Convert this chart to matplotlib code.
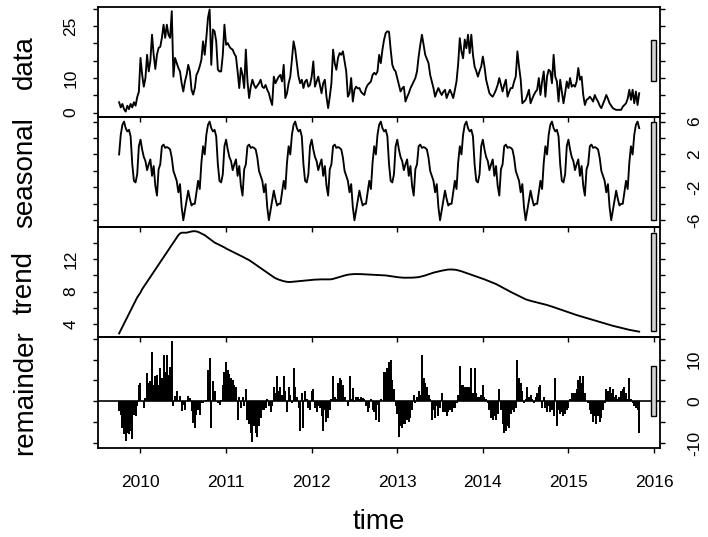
import numpy as np
import matplotlib
matplotlib.use("Agg")
import matplotlib.pyplot as plt
from matplotlib.patches import Rectangle

plt.rcParams['font.family'] = ['Liberation Sans', 'DejaVu Sans']

# ---------------- data (weekly series, STL decomposition) ----------------
start_year = 2009
start_week = 39          # weeks after start of 2009
freq = 52

data = [
    3.0, 1.5, 2.5, 1.0, 0.3, 2.0, 1.0, 2.5, 1.5, 3.0, 2.0, 4.5, 6.0,
    15.8, 11.0, 7.5, 10.0, 16.7, 11.9, 15.0, 22.5, 16.7, 12.6, 16.7, 18.7, 19.0,
    21.6, 25.4, 21.6, 25.4, 22.5, 21.6, 29.3, 10.4, 15.8, 14.3, 12.9, 11.9, 8.5,
    6.1, 9.0, 10.9, 13.8, 11.9, 6.6, 5.2, 7.1, 10.9, 11.9, 13.4, 15.3, 20.6,
    16.7, 21.6, 27.4, 29.8, 13.8, 24.0, 23.5, 20.6, 12.4, 11.9, 11.9, 16.7, 25.4,
    19.6, 20.1, 19.1, 18.5, 18.2, 17.0, 16.2, 11.9, 7.1, 12.9, 10.9, 7.1, 18.2,
    9.0, 4.2, 7.5, 9.5, 8.0, 7.1, 7.8, 8.5, 9.5, 7.5, 7.1, 8.0, 6.6,
    5.6, 3.7, 2.2, 10.4, 8.5, 9.5, 10.4, 10.9, 9.0, 13.8, 4.2, 5.6, 8.5,
    10.4, 15.3, 20.6, 18.2, 14.3, 10.4, 8.5, 9.5, 7.1, 9.0, 9.5, 7.5, 8.0,
    10.4, 14.8, 7.5, 9.0, 10.4, 8.0, 5.6, 8.5, 9.5, 4.6, 1.3, 4.6, 8.5,
    18.2, 14.3, 12.4, 15.8, 17.2, 16.7, 17.7, 14.8, 11.9, 4.6, 5.6, 10.0, 3.2,
    6.6, 7.5, 7.0, 7.1, 6.0, 5.5, 5.1, 7.0, 8.0, 8.5, 9.0, 10.9, 11.5,
    11.0, 11.9, 16.7, 14.3, 18.2, 21.1, 23.0, 23.5, 23.3, 18.2, 13.8, 12.5, 11.9,
    10.0, 8.0, 6.1, 7.0, 7.5, 3.2, 4.5, 5.6, 7.0, 8.0, 9.0, 10.0, 11.9,
    16.2, 19.6, 22.5, 19.6, 16.7, 15.5, 14.3, 10.9, 9.0, 7.1, 4.6, 6.0, 7.1,
    6.0, 5.1, 6.0, 6.6, 4.2, 5.5, 6.6, 5.5, 4.2, 6.5, 9.0, 14.0, 21.5,
    17.7, 15.7, 21.1, 18.6, 22.5, 17.2, 22.5, 16.7, 13.3, 12.0, 10.4, 12.0, 13.3,
    16.2, 13.3, 9.5, 7.5, 5.6, 5.0, 4.6, 5.5, 6.6, 8.0, 10.0, 8.0, 6.1,
    8.0, 9.5, 4.6, 6.0, 7.1, 7.1, 9.0, 10.4, 17.7, 13.3, 9.5, 2.7, 3.2,
    3.7, 5.0, 6.6, 2.7, 4.0, 5.1, 6.0, 6.6, 10.0, 5.1, 9.0, 11.9, 4.6,
    10.4, 12.4, 11.9, 8.5, 16.7, 10.4, 9.0, 3.2, 9.5, 6.0, 2.7, 5.6, 9.0,
    7.1, 10.0, 7.5, 8.0, 7.5, 9.0, 12.9, 9.5, 10.4, 5.1, 2.2, 3.7, 4.0,
    4.6, 4.0, 3.2, 5.1, 4.0, 3.2, 2.0, 1.3, 2.5, 3.7, 5.1, 4.0, 2.7,
    2.0, 1.3, 1.0, 0.8, 0.8, 0.8, 0.8, 1.7, 2.2, 2.7, 4.0, 6.6, 3.7,
    6.6, 2.7, 6.1, 2.2, 5.6]

# periodic seasonal component, one year (week 0 .. 51)
seasonal_cycle = [3.8, 2.6, 1.7, 1.2, 0.1, 0.8, 1.4, -0.6, 0.6, -1.8, -3.0, 0.2, 0.8,
                  3.0, 3.2, 2.8, 2.9, 2.8, 2.6, 1.6, 0.0, -0.6, -1.2, -2.6, -1.6, -4.4,
                  -6.0, -4.8, -3.6, -2.4, -3.4, -4.2, -4.0, -4.0, -2.6, -1.2, -2.2, 1.0,
                  3.0, 2.0, 4.4, 5.6, 6.0, 5.2, 4.8, 5.0, 4.2, 0.8, -1.2, -1.4, -0.4, 3.0]

trend = [
    2.9, 3.3, 3.7, 4.1, 4.5, 4.9, 5.3, 5.7, 6.1, 6.5, 6.9, 7.3, 7.6,
    7.9, 8.3, 8.6, 8.9, 9.2, 9.5, 9.8, 10.1, 10.4, 10.7, 11.0, 11.3, 11.6,
    11.9, 12.2, 12.5, 12.8, 13.1, 13.4, 13.7, 14.0, 14.3, 14.6, 14.9, 15.1, 15.2,
    15.2, 15.2, 15.2, 15.25, 15.3, 15.35, 15.38, 15.38, 15.35, 15.3, 15.2, 15.1, 15.0,
    14.9, 14.75, 14.6, 14.45, 14.3, 14.15, 14.0, 13.9, 13.8, 13.7, 13.6, 13.5, 13.4,
    13.27, 13.17, 13.07, 12.97, 12.87, 12.77, 12.67, 12.57, 12.47, 12.37, 12.27, 12.17, 12.05,
    11.95, 11.85, 11.72, 11.58, 11.44, 11.30, 11.16, 11.02, 10.88, 10.74, 10.6, 10.46, 10.32,
    10.18, 10.04, 9.9, 9.76, 9.64, 9.55, 9.47, 9.4, 9.34, 9.28, 9.24, 9.2, 9.18,
    9.18, 9.2, 9.22, 9.24, 9.26, 9.28, 9.3, 9.32, 9.34, 9.36, 9.38, 9.4, 9.42,
    9.44, 9.46, 9.47, 9.48, 9.49, 9.5, 9.5, 9.5, 9.5, 9.5, 9.5, 9.5, 9.52,
    9.56, 9.62, 9.68, 9.74, 9.8, 9.86, 9.92, 9.98, 10.03, 10.07, 10.1, 10.12, 10.14,
    10.15, 10.15, 10.15, 10.15, 10.14, 10.13, 10.12, 10.11, 10.1, 10.09, 10.08, 10.07, 10.06,
    10.05, 10.04, 10.03, 10.02, 10.01, 10.0, 9.98, 9.95, 9.92, 9.89, 9.86, 9.83, 9.8,
    9.77, 9.75, 9.73, 9.71, 9.7, 9.7, 9.7, 9.7, 9.7, 9.71, 9.72, 9.73, 9.75,
    9.78, 9.82, 9.87, 9.92, 9.98, 10.05, 10.12, 10.19, 10.26, 10.32, 10.37, 10.41, 10.46,
    10.51, 10.56, 10.6, 10.64, 10.67, 10.7, 10.71, 10.71, 10.7, 10.68, 10.65, 10.6, 10.55,
    10.49, 10.42, 10.35, 10.28, 10.21, 10.14, 10.07, 10.0, 9.93, 9.86, 9.79, 9.72, 9.65,
    9.58, 9.5, 9.42, 9.34, 9.26, 9.18, 9.1, 9.02, 8.93, 8.83, 8.72, 8.61, 8.5,
    8.39, 8.28, 8.17, 8.06, 7.96, 7.86, 7.76, 7.66, 7.56, 7.46, 7.36, 7.26, 7.16,
    7.07, 7.0, 6.94, 6.88, 6.83, 6.78, 6.73, 6.68, 6.63, 6.58, 6.53, 6.48, 6.43,
    6.37, 6.31, 6.25, 6.18, 6.11, 6.04, 5.97, 5.9, 5.83, 5.76, 5.69, 5.62, 5.55,
    5.48, 5.41, 5.34, 5.27, 5.2, 5.14, 5.08, 5.02, 4.96, 4.9, 4.84, 4.78, 4.72,
    4.66, 4.6, 4.54, 4.48, 4.42, 4.37, 4.31, 4.25, 4.19, 4.13, 4.07, 4.01, 3.95,
    3.89, 3.83, 3.78, 3.73, 3.68, 3.63, 3.58, 3.53, 3.48, 3.43, 3.38, 3.34, 3.3,
    3.26, 3.22, 3.18, 3.15, 3.12]

remainder = [
    -2.4, -3.2, -6.3, -7.9, -9.5, -7.5, -7.9, -7.1, -9.1, -3.2, -3.6, -1.2, 4.0,
    4.4, 0.0, -1.6, 0.8, 6.7, 4.4, 4.8, 11.9, 4.0, 6.0, 6.3, 4.0, 7.9,
    5.6, 11.1, 7.1, 11.1, 6.3, 8.3, 14.5, -1.2, 1.2, 2.4, 0.4, 1.2, -2.4,
    -0.8, -2.0, 0.0, 1.2, 0.8, -2.4, -5.2, -6.3, -3.2, -2.0, -3.2, -0.4, -0.4,
    0.0, 0.4, 7.5, 10.3, -6.3, 4.8, 2.4, 0.0, -0.4, -0.8, 0.4, 4.0, 7.1,
    9.5, 7.5, 6.5, 5.5, 5.0, 4.0, 3.5, -4.5, 1.0, -1.5, 1.0, -1.2, 3.0,
    -4.5, -5.5, -7.5, -9.7, -6.0, -7.5, -8.5, -6.0, -4.0, -2.0, -2.0, -1.5, 0.5,
    -1.0, -2.5, -1.0, 3.5, 2.0, 6.0, 2.5, 3.5, 1.5, 6.0, 2.5, -2.5, 3.5,
    1.5, -0.5, 8.0, 3.5, 1.0, -1.5, -7.0, 2.0, -6.5, 2.5, 0.5, -1.5, -2.0,
    2.5, 3.0, -1.5, -2.5, -1.0, -1.5, -3.5, -7.0, -2.0, -5.0, -4.0, -2.0, 0.5,
    6.0, 1.0, 0.5, 4.5, 5.5, 5.0, 4.0, 1.0, 0.0, -1.0, 6.0, 0.5, 3.2,
    -0.2, 1.0, 1.0, 0.5, 1.0, 0.8, 0.5, -1.2, -2.5, -1.5, 0.5, -2.0, -2.5,
    -4.5, -0.8, -5.0, 0.5, 0.2, 7.0, 7.0, 8.0, 9.5, 10.0, 5.0, 3.0, -1.0,
    -3.0, -8.5, -6.0, -6.5, -5.5, -5.5, -4.5, -5.0, -4.0, -2.0, 1.5, -0.5, 1.0,
    2.5, 1.5, 11.0, 5.5, 4.5, 3.5, 1.5, 0.5, -4.5, -2.0, -4.0, -1.0, -3.5,
    -1.5, 2.0, -2.5, -2.5, -3.5, -2.5, -2.0, -2.5, -1.5, -1.5, -0.5, 1.5, 8.5,
    4.0, 4.0, 3.5, 3.5, 3.5, 3.5, 8.0, 2.0, 8.0, 2.0, 1.0, 1.0, 1.5,
    4.0, 1.0, 0.5, -0.3, -2.0, -4.0, -4.5, -3.5, -4.5, -3.0, 3.0, -2.0, -5.5,
    -7.5, -7.0, -6.0, -6.5, -3.0, -2.0, -2.5, -1.5, 10.0, 5.5, 4.5, 2.5, -0.5,
    0.5, 3.5, 1.0, 1.5, 0.5, -0.5, 1.0, 2.0, 3.5, 4.0, -1.5, 1.0, -1.5,
    -2.5, -1.0, -2.5, -2.0, -3.5, 5.5, -6.0, -2.0, -3.0, -2.5, -3.5, -3.0, -2.0,
    -1.5, 0.5, 2.0, 2.0, 2.0, 3.0, 5.0, 6.0, 4.5, 6.0, 2.0, 0.2, -0.5,
    -2.0, -3.0, -5.0, -3.5, -5.5, -3.5, -5.0, -4.0, -2.0, -0.5, 3.0, 2.5, 3.5,
    2.0, 3.0, 1.0, 1.5, 0.5, 1.0, 2.5, 3.0, 3.5, 2.0, 0.5, 5.5, 0.5,
    -0.5, -1.0, -1.5, -2.0, -7.5]

panel_labels = ["data", "seasonal", "trend", "remainder"]
x_ticks = [2010, 2011, 2012, 2013, 2014, 2015, 2016]
y_ticks = [[0, 5, 10, 15, 20, 25, 30],
           [-6, -4, -2, 0, 2, 4, 6],
           [4, 6, 8, 10, 12, 14],
           [-10, -5, 0, 5, 10, 15]]
y_ticklabels = [["0", "", "10", "", "", "25", ""],
                ["-6", "", "-2", "", "2", "", "6"],
                ["4", "", "8", "", "12", ""],
                ["-10", "", "0", "", "10", ""]]

# ---------------- build components ----------------
n = len(data)
week_idx = start_week + np.arange(n)
t = start_year + week_idx / freq
seasonal = np.asarray(seasonal_cycle)[week_idx % freq]
series = [np.asarray(data), seasonal, np.asarray(trend), np.asarray(remainder)]

ylims = [(-1.25, 30.6), (-6.84, 6.56), (2.41, 15.87), (-11.1, 15.3)]

# ---------------- figure ----------------
W, H = 708, 537
fig = plt.figure(figsize=(W / 100, H / 100), dpi=100)
left_px, right_px = 98.3, 660.0
top0, ph = 6.7, 110.25

span = t[-1] - t[0]
xlim = (t[0] - 0.04 * span, t[-1] + 0.04 * span)
mx = min(np.ptp(s) for s in series)

for j, (s, lab) in enumerate(zip(series, panel_labels)):
    top = top0 + j * ph
    ax = fig.add_axes([left_px / W, 1 - (top + ph) / H, (right_px - left_px) / W, ph / H])
    ax.set_facecolor('none')
    if j < 3:
        ax.plot(t, s, color='black', lw=1.35)
    else:
        ax.vlines(t, 0, s, color='black', lw=1.2, antialiased=False)
        ax.axhline(0, color='black', lw=1.2)
    ax.set_xlim(xlim)
    ax.set_ylim(ylims[j])

    # range bar (same data length in every panel)
    ux = ax.get_xlim()
    dx = (ux[1] - ux[0]) / 64
    yc = (s.min() + s.max()) / 2
    ax.add_patch(Rectangle((ux[1] - dx, yc - mx / 2), 0.6 * dx, mx,
                           facecolor='#D3D3D3', edgecolor='black', lw=1.0,
                           clip_on=False, zorder=3))

    for sp in ax.spines.values():
        sp.set_linewidth(1.3)
        sp.set_color('black')

    right_side = (j % 2 == 1)
    ax.set_yticks(y_ticks[j])
    ax.set_yticklabels(y_ticklabels[j])
    ax.tick_params(axis='y', which='both', left=True, right=True,
                   labelleft=not right_side, labelright=right_side,
                   direction='out', length=3.5, width=1.0, labelsize=12.5,
                   pad=16 if right_side else 11, labelrotation=90)
    for tl in ax.get_yticklabels():
        tl.set_va('center')
    ax.set_xticks(x_ticks)
    ax.set_xticklabels([str(v) for v in x_ticks])
    ax.tick_params(axis='x', which='both', bottom=True, top=False,
                   direction='out', length=3.5, width=1.0,
                   labelbottom=(j == 3), labelsize=12.5, pad=16)

    fig.text(25 / W, 1 - (top + ph / 2) / H, lab, rotation=90,
             ha='center', va='center', fontsize=20)

fig.text(379 / W, 1 - 521.7 / H, 'time', ha='center', va='center', fontsize=20)

fig.savefig('out.png', dpi=100)
